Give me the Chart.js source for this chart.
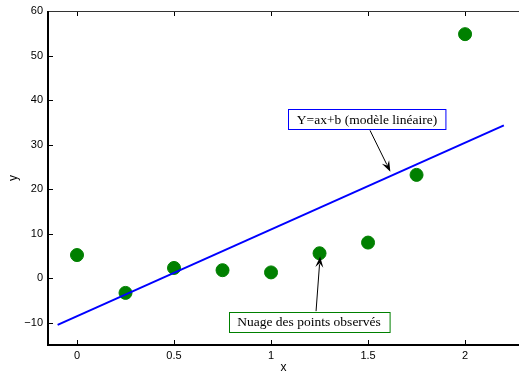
<!DOCTYPE html>
<html>
<head>
<meta charset="utf-8">
<script src="https://cdn.jsdelivr.net/npm/chart.js@4/dist/chart.umd.min.js"></script>
<style>
  html, body { margin: 0; padding: 0; background: #fff; overflow: hidden; }
  canvas { display: block; }
</style>
</head>
<body>
<canvas id="chart" width="519" height="375"></canvas>
<script>
// observed points
const obsX = [0, 0.25, 0.5, 0.75, 1, 1.25, 1.5, 1.75, 2];
const obsY = [5.2, -3.3, 2.3, 1.8, 1.3, 5.6, 8.0, 23.2, 54.8];

// fitted line (end points)
const fitX = [-0.1, 2.2];
const fitY = [-10.5, 34.3];

const xTicks = [0, 0.5, 1, 1.5, 2];
const yTicks = [-10, 0, 10, 20, 30, 40, 50, 60];

// annotation boxes and arrows, in data units
const labelModel = 'Y=ax+b (modèle linéaire)';
const labelCloud = 'Nuage des points observés';

const annotations = [
    { text: labelModel, at: [1.495, 35.7], color: '#0000ff', from: [1.51, 33.2], to: [1.615, 23.9] },
    { text: labelCloud, at: [1.196, -9.8], color: '#008000', from: [1.232, -7.4], to: [1.253, 4.9] }
];

function minusSign(v) {
    return String(v).replace('-', '\u2212');
}

// inward ticks + axes lines, like matlab (the right side of the box is cut off)
const boxTicks = {
    id: 'boxTicks',
    afterDraw(chart) {
        const { ctx, chartArea: a, scales } = chart;
        ctx.save();
        ctx.strokeStyle = '#000';
        ctx.lineWidth = 1;
        const len = 5;
        xTicks.forEach(v => {
            const px = Math.round(scales.x.getPixelForValue(v)) + 0.5;
            ctx.beginPath();
            ctx.moveTo(px, a.bottom); ctx.lineTo(px, a.bottom - len);
            ctx.moveTo(px, a.top); ctx.lineTo(px, a.top + len);
            ctx.stroke();
        });
        yTicks.forEach(v => {
            const py = Math.round(scales.y.getPixelForValue(v)) + 0.5;
            ctx.beginPath();
            ctx.moveTo(a.left, py); ctx.lineTo(a.left + len, py);
            ctx.stroke();
        });
        // top edge thin, left + bottom thick
        ctx.strokeStyle = '#333';
        ctx.beginPath();
        ctx.moveTo(a.left, a.top + 0.5); ctx.lineTo(a.right, a.top + 0.5);
        ctx.stroke();
        ctx.strokeStyle = '#000';
        ctx.lineWidth = 2;
        ctx.beginPath();
        ctx.moveTo(a.left, a.top); ctx.lineTo(a.left, a.bottom); ctx.lineTo(a.right, a.bottom);
        ctx.stroke();
        ctx.restore();
    }
};

const notes = {
    id: 'notes',
    afterDatasetsDraw(chart) {
        const { ctx, scales } = chart;
        ctx.save();
        annotations.forEach(n => {
            // arrow
            const x1 = scales.x.getPixelForValue(n.from[0]);
            const y1 = scales.y.getPixelForValue(n.from[1]);
            const x2 = scales.x.getPixelForValue(n.to[0]);
            const y2 = scales.y.getPixelForValue(n.to[1]);
            const ang = Math.atan2(y2 - y1, x2 - x1);
            ctx.strokeStyle = '#000';
            ctx.fillStyle = '#000';
            ctx.lineWidth = 1;
            ctx.beginPath();
            ctx.moveTo(x1, y1);
            ctx.lineTo(x2 - 8 * Math.cos(ang), y2 - 8 * Math.sin(ang));
            ctx.stroke();
            ctx.beginPath();
            ctx.moveTo(x2, y2);
            ctx.lineTo(x2 - 11 * Math.cos(ang) + 4 * Math.sin(ang), y2 - 11 * Math.sin(ang) - 4 * Math.cos(ang));
            ctx.lineTo(x2 - 7 * Math.cos(ang), y2 - 7 * Math.sin(ang));
            ctx.lineTo(x2 - 11 * Math.cos(ang) - 4 * Math.sin(ang), y2 - 11 * Math.sin(ang) + 4 * Math.cos(ang));
            ctx.closePath();
            ctx.fill();

            // box
            ctx.font = '13.5px "Liberation Serif", "Times New Roman", serif';
            const w = ctx.measureText(n.text).width + 17;
            const h = 20;
            const cx = scales.x.getPixelForValue(n.at[0]);
            const cy = scales.y.getPixelForValue(n.at[1]);
            const bx = Math.round(cx - w / 2) + 0.5;
            const by = Math.round(cy - h / 2) + 0.5;
            ctx.fillStyle = '#fff';
            ctx.fillRect(bx, by, w, h);
            ctx.strokeStyle = n.color;
            ctx.strokeRect(bx, by, w, h);
            ctx.fillStyle = '#000';
            ctx.textAlign = 'center';
            ctx.textBaseline = 'middle';
            ctx.fillText(n.text, cx, cy + 1);
        });
        ctx.restore();
    }
};

const tickFont = { family: '"Liberation Sans", Arial, sans-serif', size: 11 };

new Chart(document.getElementById('chart'), {
    type: 'scatter',
    data: {
        datasets: [
            {
                label: 'fit',
                type: 'line',
                data: fitX.map((x, i) => ({ x: x, y: fitY[i] })),
                borderColor: '#0000ff',
                borderWidth: 2,
                pointRadius: 0,
                fill: false
            },
            {
                label: 'obs',
                data: obsX.map((x, i) => ({ x: x, y: obsY[i] })),
                backgroundColor: '#008000',
                borderColor: '#008000',
                pointRadius: 6.5,
                pointHoverRadius: 6.5
            }
        ]
    },
    options: {
        responsive: false,
        animation: false,
        events: [],
        layout: { autoPadding: false, padding: { top: 11, right: 0, left: 0, bottom: 0 } },
        plugins: {
            legend: { display: false },
            tooltip: { enabled: false }
        },
        scales: {
            x: {
                type: 'linear',
                min: -0.1495,
                max: 2.278,
                afterBuildTicks: s => { s.ticks = xTicks.map(v => ({ value: v })); },
                afterFit: s => { s.height = 30; s.paddingLeft = 0; s.paddingRight = 0; },
                grid: { display: false, drawTicks: false },
                border: { display: false },
                ticks: { color: '#000', font: tickFont, padding: 4, maxRotation: 0, callback: v => minusSign(v) },
                title: { display: true, text: 'x', color: '#000', font: { family: tickFont.family, size: 12 }, padding: { top: 3, bottom: 0 } }
            },
            y: {
                type: 'linear',
                min: -15,
                max: 60,
                afterBuildTicks: s => { s.ticks = yTicks.map(v => ({ value: v })); },
                afterFit: s => { s.width = 48; s.paddingTop = 0; s.paddingBottom = 0; },
                grid: { display: false, drawTicks: false },
                border: { display: false },
                ticks: { color: '#000', font: tickFont, padding: 5, callback: v => minusSign(v) },
                title: { display: true, text: 'y', color: '#000', font: { family: tickFont.family, size: 12 }, padding: { top: 6, bottom: 0 } }
            }
        }
    },
    plugins: [notes, boxTicks]
});
</script>
</body>
</html>
